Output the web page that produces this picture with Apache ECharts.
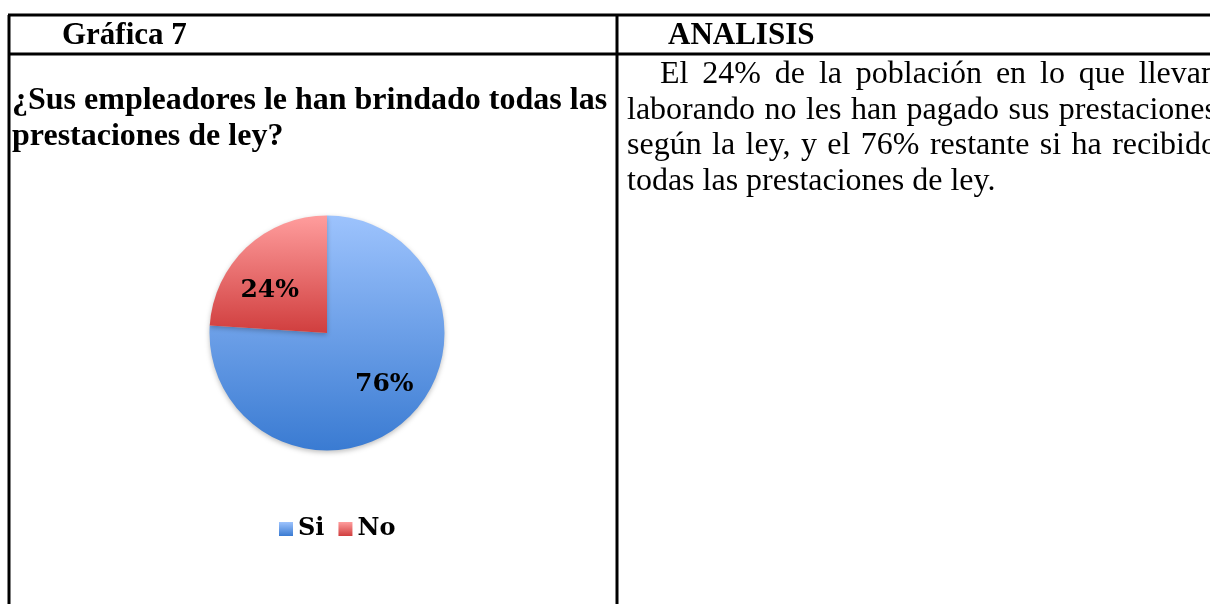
<!DOCTYPE html>
<html>
<head>
<meta charset="utf-8">
<script src="https://cdn.jsdelivr.net/npm/echarts@6/dist/echarts.min.js"></script>
<style>
html, body { margin: 0; padding: 0; background: #fff; }
#main { width: 1210px; height: 604px; }
</style>
</head>
<body>
<div id="main"></div>
<script>
// datos de la grafica
var categories = ['Si', 'No'];
var values = [76, 24];

// textos de la tabla
var headerLeft = 'Gráfica 7';
var headerRight = 'ANALISIS';
var questionLines = ['¿Sus empleadores le han brindado todas las', 'prestaciones de ley?'];
var analysisLines = [
	'El 24% de la población en lo que llevan',
	'laborando no les han pagado sus prestaciones',
	'según la ley, y el 76% restante si ha recibido',
	'todas las prestaciones de ley.'
];

var serif = '"Liberation Serif", "Times New Roman", serif';
var labelFont = '"DejaVu Serif", Cambria, serif';

var chart = echarts.init(document.getElementById('main'));

// medir palabras para justificar el parrafo
var ctx = document.createElement('canvas').getContext('2d');
function wordsLine(text, x0, x1, y, size, weight, justify) {
	var words = text.split(' ');
	ctx.font = weight + ' ' + size + 'px ' + serif;
	var widths = words.map(function (w) { return ctx.measureText(w).width; });
	var total = widths.reduce(function (a, b) { return a + b; }, 0);
	var gap = justify ? (x1 - x0 - total) / (words.length - 1) : ctx.measureText(' ').width;
	var out = [];
	var x = x0;
	words.forEach(function (w, i) {
		out.push({
			type: 'text', x: x, y: y, silent: true,
			style: { text: w, fill: '#000', fontSize: size, fontWeight: weight, fontFamily: serif, verticalAlign: 'middle' }
		});
		x += widths[i] + gap;
	});
	return out;
}

function line(x1, y1, x2, y2) {
	return { type: 'line', silent: true, shape: { x1: x1, y1: y1, x2: x2, y2: y2 }, style: { stroke: '#000', lineWidth: 3 } };
}

var graphics = [
	line(8, 15, 1210, 15),
	line(8, 54, 1210, 54),
	line(9, 15, 9, 604),
	line(617, 15, 617, 604)
];
graphics = graphics.concat(wordsLine(headerLeft, 62, 0, 36, 31, 'bold', false));
graphics = graphics.concat(wordsLine(headerRight, 668, 0, 36, 31, 'bold', false));
graphics = graphics.concat(wordsLine(questionLines[0], 12, 0, 101, 32, 'bold', false));
graphics = graphics.concat(wordsLine(questionLines[1], 12, 0, 137, 32, 'bold', false));
analysisLines.forEach(function (t, i) {
	var x0 = i === 0 ? 660 : 627;
	graphics = graphics.concat(wordsLine(t, x0, 1217, 75 + i * 35.5, 32, 'normal', i < analysisLines.length - 1));
});

var blue = new echarts.graphic.LinearGradient(0, 0, 0, 1, [
	{ offset: 0, color: '#9dc3fd' },
	{ offset: 1, color: '#3a7bd2' }
]);
var red = new echarts.graphic.LinearGradient(0, 0, 0, 1, [
	{ offset: 0, color: '#ff9d9d' },
	{ offset: 1, color: '#d03e3e' }
]);
var colors = [blue, red];
// ajuste de las etiquetas hacia el borde, como en Excel
var labelOffsets = [[15, 6], [-15, 3]];

var option = {
	backgroundColor: '#fff',
	animation: false,
	graphic: graphics,
	legend: {
		data: categories,
		left: 274,
		top: 512,
		icon: 'rect',
		itemWidth: 14,
		itemHeight: 14,
		itemGap: 14,
		textStyle: { color: '#000', fontFamily: labelFont, fontWeight: 'bold', fontSize: 24 }
	},
	series: [{
		type: 'pie',
		center: [327, 333],
		radius: 117.5,
		startAngle: 90,
		clockwise: true,
		avoidLabelOverlap: false,
		itemStyle: {
			borderWidth: 0,
			shadowBlur: 5,
			shadowColor: 'rgba(0,0,0,0.25)',
			shadowOffsetY: 2
		},
		label: {
			position: 'inside',
			formatter: '{d}%',
			color: '#000',
			fontFamily: labelFont,
			fontWeight: 'bold',
			fontSize: 25
		},
		labelLine: { show: false },
		emphasis: { scale: false },
		data: categories.map(function (c, i) {
			return { name: c, value: values[i], itemStyle: { color: colors[i] }, label: { offset: labelOffsets[i] } };
		})
	}]
};
chart.setOption(option);
</script>
</body>
</html>
